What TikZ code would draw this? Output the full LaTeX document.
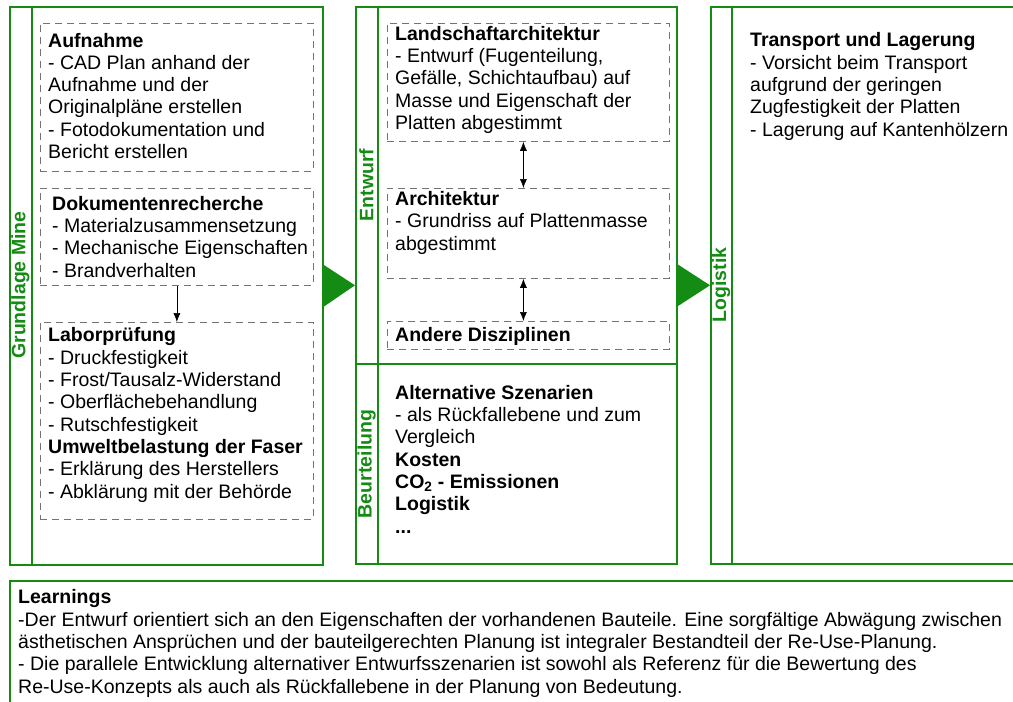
\documentclass[tikz,border=0pt]{standalone}
\usepackage{fontspec}
\setmainfont{Liberation Sans}
\usetikzlibrary{arrows.meta}
\definecolor{MineGreen}{RGB}{20,140,20}
\definecolor{DashGray}{RGB}{115,115,115}

\begin{document}
\begin{tikzpicture}[x=1pt,y=-1pt,
frame/.style={draw=MineGreen,line width=1.6pt,anchor=north west,inner sep=0pt},
part/.style={draw=DashGray,dash pattern=on 7pt off 5pt,line width=0.8pt,anchor=north west,inner sep=0pt},
txt/.style={anchor=base west,align=left,inner sep=0pt,font=\fontsize{19.5}{22.3}\selectfont},
sidetitle/.style={rotate=90,inner sep=0pt,text=MineGreen,font=\fontsize{19.5}{22.3}\selectfont\bfseries},
strip/.style={draw=MineGreen,line width=1.6pt},
link/.style={-{Latex[length=9pt,width=7pt]},line width=0.6pt},
twoway/.style={{Latex[length=9pt,width=7pt]}-{Latex[length=9pt,width=7pt]},line width=0.6pt},
bigarrow/.style={fill=MineGreen}
]
\useasboundingbox (0,0) rectangle (1013,702);
\clip (0,0) rectangle (1013,702);

\node[frame,minimum width=313pt,minimum height=558pt] (mine) at (9,6) {};
\node[frame,minimum width=321pt,minimum height=557pt] (entwurf) at (355,6) {};
\node[frame,minimum width=340pt,minimum height=557pt] (logistik) at (710,6) {};
\node[frame,minimum width=1040pt,minimum height=140pt] (learnings) at (9,580) {};
\draw[strip] (32,6) -- (32,564);
\draw[strip] (378,6) -- (378,563);
\draw[strip] (355,364) -- (676,364);
\draw[strip] (732,6) -- (732,563);

\node[sidetitle] (minetitle) at (20.5,285) {Grundlage Mine};
\node[sidetitle] (entwurftitle) at (366.5,185) {Entwurf};
\node[sidetitle] (beurteiltitle) at (366.5,464) {Beurteilung};
\node[sidetitle] (logistiktitle) at (721,285) {Logistik};

\fill[bigarrow] ([yshift=21pt]mine.east) -- (entwurf.west) -- ([yshift=-21pt]mine.east) -- cycle;
\fill[bigarrow] ([yshift=21pt]entwurf.east) -- (logistik.west) -- ([yshift=-21pt]entwurf.east) -- cycle;

\node[part,minimum width=273pt,minimum height=148pt] (aufnahme) at (40,23) {};
\node[part,minimum width=273pt,minimum height=97pt] (recherche) at (40,188) {};
\node[part,minimum width=273pt,minimum height=197pt] (labor) at (40,322) {};
\node[part,minimum width=282pt,minimum height=118pt] (landschaft) at (387,23) {};
\node[part,minimum width=282pt,minimum height=90pt] (architektur) at (387,188) {};
\node[part,minimum width=282pt,minimum height=28pt] (andere) at (387,321) {};

\draw[link] (recherche.south) -- (labor.north);
\draw[twoway] ([xshift=-5pt]landschaft.south) -- ([xshift=-5pt]architektur.north);
\draw[twoway] ([xshift=-5pt]architektur.south) -- ([xshift=-5pt]andere.north);

\node[txt] (aufnahmetxt) at (48,158.5) {\textbf{Aufnahme}\\- CAD Plan anhand der\\Aufnahme und der\\Originalpläne erstellen\\- Fotodokumentation und\\Bericht erstellen};
\node[txt] (recherchetxt) at (52,277) {\textbf{Dokumentenrecherche}\\- Materialzusammensetzung\\- Mechanische Eigenschaften\\- Brandverhalten};
\node[txt] (labortxt) at (48,498) {\textbf{Laborprüfung}\\- Druckfestigkeit\\- Frost/Tausalz-Widerstand\\- Oberflächebehandlung\\- Rutschfestigkeit\\\textbf{Umweltbelastung der Faser}\\- Erklärung des Herstellers\\- Abklärung mit der Behörde};
\node[txt] (landschafttxt) at (395,129.5) {\textbf{Landschaftarchitektur}\\- Entwurf (Fugenteilung,\\Gefälle, Schichtaufbau) auf\\Masse und Eigenschaft der\\Platten abgestimmt};
\node[txt] (architekturtxt) at (395,250) {\textbf{Architektur}\\- Grundriss auf Plattenmasse\\abgestimmt};
\node[txt] (anderetxt) at (395,341) {\textbf{Andere Disziplinen}};
\node[txt] (beurteiltxt) at (395,533) {\textbf{Alternative Szenarien}\\- als Rückfallebene und zum\\Vergleich\\\textbf{Kosten}\\\textbf{CO\textsubscript{2} - Emissionen}\\\textbf{Logistik}\\\textbf{...}};
\node[txt] (logistiktxt) at (750,136) {\textbf{Transport und Lagerung}\\- Vorsicht beim Transport\\aufgrund der geringen\\Zugfestigkeit der Platten\\- Lagerung auf Kantenhölzern};
\node[txt] (learningstxt) at (18,693) {\textbf{Learnings}\\-Der Entwurf orientiert sich an den Eigenschaften der vorhandenen Bauteile. Eine sorgfältige Abwägung zwischen\\ästhetischen Ansprüchen und der bauteilgerechten Planung ist integraler Bestandteil der Re-Use-Planung.\\- Die parallele Entwicklung alternativer Entwurfsszenarien ist sowohl als Referenz für die Bewertung des\\Re-Use-Konzepts als auch als Rückfallebene in der Planung von Bedeutung.};
\end{tikzpicture}
\end{document}
